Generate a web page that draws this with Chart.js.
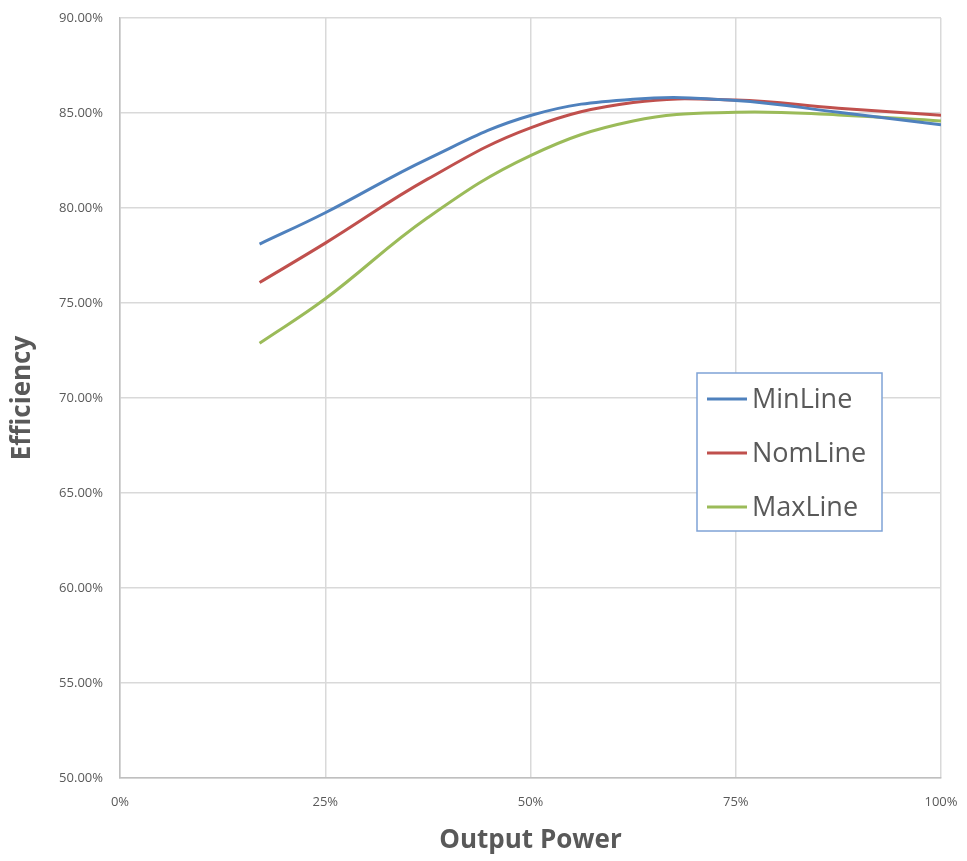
<!DOCTYPE html>
<html>
<head>
<meta charset="utf-8">
<script src="https://cdn.jsdelivr.net/npm/chart.js@4.4.1/dist/chart.umd.min.js"></script>
<style>
  html, body { margin: 0; padding: 0; background: #fff; }
  #wrap { width: 967px; height: 861px; }
</style>
</head>
<body>
<div id="wrap"><canvas id="effChart"></canvas></div>
<script>
// output power (% of rated) where the curves were read
var outputPower = [17, 25, 37.5, 50, 62.5, 75, 87.5, 100];
var minLine = [78.1, 79.75, 82.59, 84.87, 85.73, 85.66, 85.04, 84.38];
var nomLine = [76.08, 78.15, 81.53, 84.22, 85.55, 85.68, 85.25, 84.88];
var maxLine = [72.88, 75.22, 79.5, 82.76, 84.58, 85.04, 84.9, 84.58];
var xTicks = [0, 25, 50, 75, 100];
var yTicks = [50, 55, 60, 65, 70, 75, 80, 85, 90];

function pts(ys) {
    return outputPower.map(function (x, i) { return { x: x, y: ys[i] }; });
}

// legend drawn inside the plot, like the Excel box
var boxLegend = {
    id: 'boxLegend',
    afterDraw: function (chart) {
        var ctx = chart.ctx;
        var x0 = 697, y0 = 373, w = 185, h = 158;
        ctx.save();
        ctx.fillStyle = '#fff';
        ctx.fillRect(x0, y0, w, h);
        ctx.strokeStyle = '#7fa3d6';
        ctx.lineWidth = 1.5;
        ctx.strokeRect(x0, y0, w, h);
        ctx.font = '27px "Open Sans", sans-serif';
        ctx.textBaseline = 'middle';
        chart.data.datasets.forEach(function (ds, i) {
            var y = y0 + 26 + i * 54;
            ctx.strokeStyle = ds.borderColor;
            ctx.lineWidth = 3;
            ctx.beginPath();
            ctx.moveTo(x0 + 10, y);
            ctx.lineTo(x0 + 50, y);
            ctx.stroke();
            ctx.fillStyle = '#595959';
            ctx.fillText(ds.label, x0 + 55, y + 1);
        });
        ctx.restore();
    }
};

var ctx = document.getElementById('effChart').getContext('2d');
new Chart(ctx, {
    type: 'line',
    data: {
        datasets: [
            { label: 'MinLine', data: pts(minLine), borderColor: '#4F81BD' },
            { label: 'NomLine', data: pts(nomLine), borderColor: '#C0504D' },
            { label: 'MaxLine', data: pts(maxLine), borderColor: '#9BBB59' }
        ]
    },
    options: {
        responsive: true,
        maintainAspectRatio: false,
        animation: false,
        layout: { padding: { top: 18, right: 26, left: 3, bottom: 5 } },
        elements: {
            line: { borderWidth: 3, tension: 0.4, fill: false },
            point: { radius: 0 }
        },
        plugins: {
            legend: { display: false },
            tooltip: { enabled: false }
        },
        scales: {
            x: {
                type: 'linear',
                min: 0, max: 100,
                afterBuildTicks: function (axis) {
                    axis.ticks = xTicks.map(function (v) { return { value: v }; });
                },
                afterFit: function (axis) {
                    axis.height = 78;
                    axis.paddingRight = 0;
                    axis.paddingLeft = 0;
                },
                ticks: {
                    color: '#595959',
                    font: { family: 'Open Sans', size: 13 },
                    padding: 16,
                    callback: function (v) { return v + '%'; }
                },
                grid: { color: '#d9d9d9', lineWidth: 1.5, drawTicks: false },
                border: { color: '#bfbfbf', width: 1.5 },
                title: {
                    display: true,
                    text: 'Output Power',
                    color: '#595959',
                    font: { family: 'Open Sans', size: 26, weight: 'bold' },
                    padding: 0
                }
            },
            y: {
                min: 50, max: 90,
                afterBuildTicks: function (axis) {
                    axis.ticks = yTicks.map(function (v) { return { value: v }; });
                },
                afterFit: function (axis) {
                    axis.width = 117;
                    axis.paddingTop = 0;
                    axis.paddingBottom = 0;
                },
                ticks: {
                    color: '#595959',
                    font: { family: 'Open Sans', size: 13 },
                    padding: 17,
                    callback: function (v) { return v.toFixed(2) + '%'; }
                },
                grid: { color: '#d9d9d9', lineWidth: 1.5, drawTicks: false },
                border: { color: '#bfbfbf', width: 1.5 },
                title: {
                    display: true,
                    text: 'Efficiency',
                    color: '#595959',
                    font: { family: 'Open Sans', size: 26, weight: 'bold' },
                    padding: { top: 4, bottom: 0 }
                }
            }
        }
    },
    plugins: [boxLegend]
});
</script>
</body>
</html>
